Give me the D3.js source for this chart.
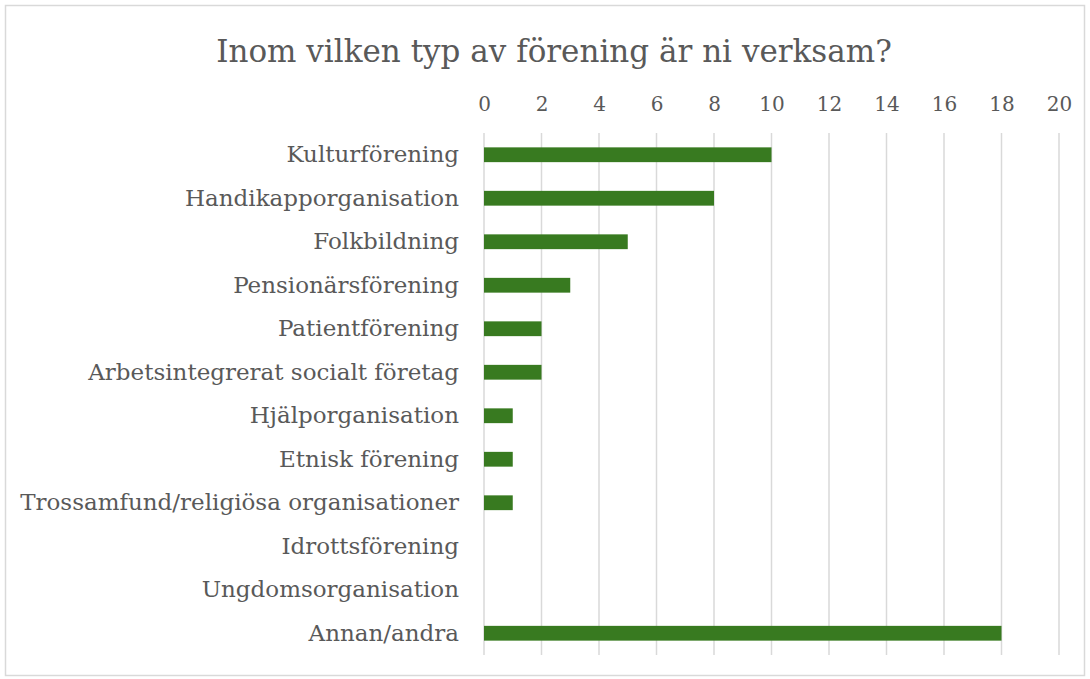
<!DOCTYPE html>
<html>
<head>
<meta charset="utf-8">
<script src="https://cdn.jsdelivr.net/npm/d3@7"></script>
<style>
  body { margin: 0; background: #fff; }
  text { font-family: "DejaVu Serif", serif; fill: #595959; }
</style>
</head>
<body>
<div id="chart"></div>
<script>
const categories = [
    "Kulturförening",
    "Handikapporganisation",
    "Folkbildning",
    "Pensionärsförening",
    "Patientförening",
    "Arbetsintegrerat socialt företag",
    "Hjälporganisation",
    "Etnisk förening",
    "Trossamfund/religiösa organisationer",
    "Idrottsförening",
    "Ungdomsorganisation",
    "Annan/andra"
];
const values = [10, 8, 5, 3, 2, 2, 1, 1, 1, 0, 0, 18];
const xTicks = [0, 2, 4, 6, 8, 10, 12, 14, 16, 18, 20];

const W = 1090, H = 679;
const margin = { top: 133, right: 31, bottom: 24, left: 484 },
      width = W - margin.left - margin.right,
      height = H - margin.top - margin.bottom;

const root = d3.select("#chart")
    .append("svg")
    .attr("width", W)
    .attr("height", H);

// chart border
root.append("rect")
    .attr("x", 5.5).attr("y", 5.5)
    .attr("width", W - 11).attr("height", H - 9)
    .attr("fill", "#fff")
    .attr("stroke", "#d9d9d9")
    .attr("stroke-width", 1.5);

const svg = root.append("g")
    .attr("transform", `translate(${margin.left},${margin.top})`);

const x = d3.scaleLinear().domain([0, 20]).range([0, width]);
const y = d3.scaleBand().domain(categories).range([0, height]).paddingInner(0.66).paddingOuter(0.33);

//Gridlines
svg.append("g")
    .selectAll("line")
    .data(xTicks)
    .enter()
    .append("line")
    .attr("x1", d => x(d)).attr("x2", d => x(d))
    .attr("y1", 0).attr("y2", height)
    .attr("stroke", "#d9d9d9")
    .attr("stroke-width", 1.5);

//Top tick labels
const xAxis = svg.append("g")
    .call(d3.axisTop(x).tickValues(xTicks).tickSize(0).tickPadding(22));
xAxis.select(".domain").remove();
xAxis.selectAll("text")
    .style("font-size", "20px")
    .style("font-family", "DejaVu Serif, serif")
    .attr("fill", "#595959");

//Category labels
const yAxis = svg.append("g")
    .call(d3.axisLeft(y).tickSize(0).tickPadding(25));
yAxis.select(".domain").remove();
yAxis.selectAll("text")
    .style("font-size", "23px")
    .style("font-family", "DejaVu Serif, serif")
    .attr("fill", "#595959");

//Bars
svg.append("g")
    .selectAll("rect")
    .data(values)
    .enter()
    .append("rect")
    .attr("x", x(0))
    .attr("y", (d, i) => y(categories[i]))
    .attr("width", d => x(d) - x(0))
    .attr("height", y.bandwidth())
    .attr("fill", "#387a20");

//Title
root.append("text")
    .attr("x", 554)
    .attr("y", 62)
    .attr("text-anchor", "middle")
    .style("font-size", "31px")
    .text("Inom vilken typ av förening är ni verksam?");
</script>
</body>
</html>
